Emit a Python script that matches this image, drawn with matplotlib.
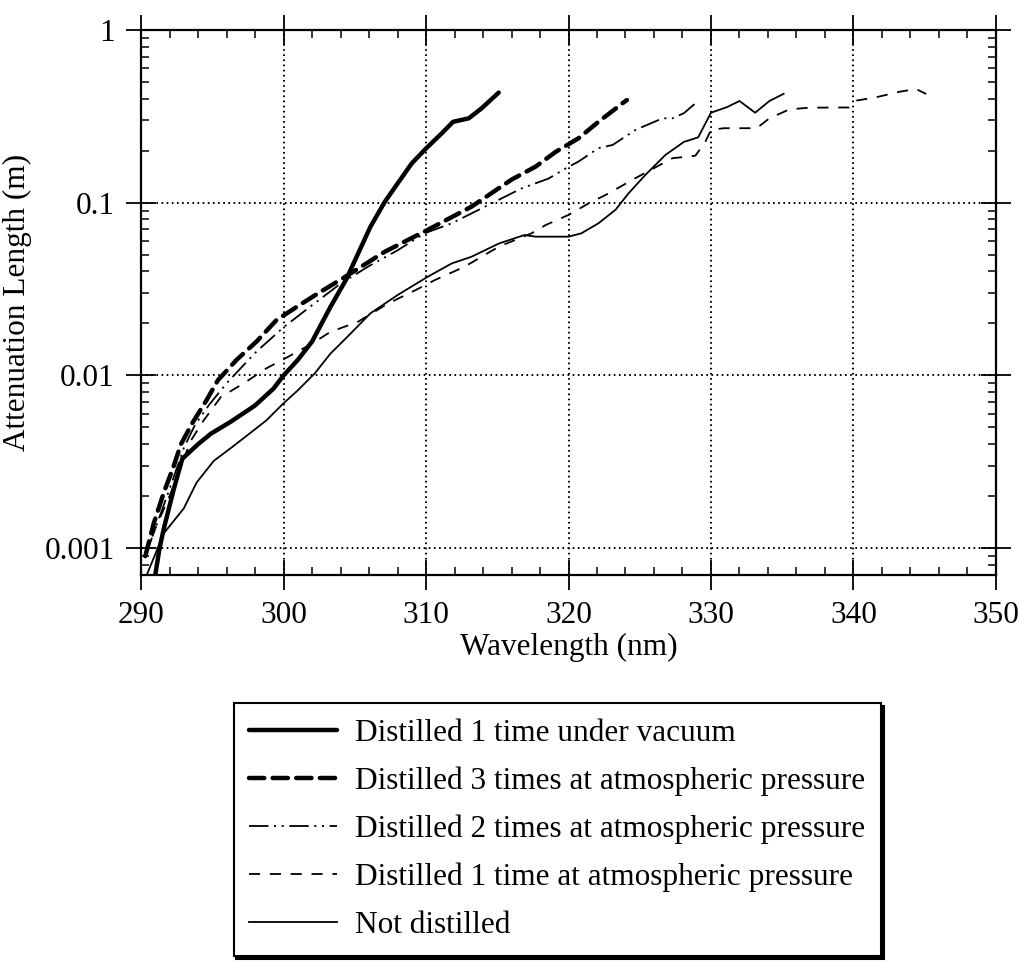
import matplotlib
matplotlib.use("Agg")
import matplotlib.pyplot as plt
from matplotlib.ticker import MultipleLocator, LogLocator, FixedLocator, NullFormatter

plt.rcParams['font.family'] = ['Liberation Serif', 'DejaVu Serif']
plt.rcParams['lines.scale_dashes'] = False

# Distilled 1 time under vacuum
wl_vac = [291.0, 291.3, 291.6, 292.3, 292.9, 294.0, 294.9, 296.3, 298.0, 299.3, 300.0, 301.0,
          302.0, 303.3, 304.4, 306.1, 307.1, 308.0, 309.0, 310.0, 311.1, 311.9, 313.0, 313.9, 315.1]
att_vac = [0.0007, 0.001, 0.0013, 0.0022, 0.0033, 0.0040, 0.0046, 0.0054, 0.0067, 0.0084, 0.010,
           0.0123, 0.0157, 0.025, 0.036, 0.0726, 0.101, 0.129, 0.169, 0.206, 0.252, 0.294, 0.308,
           0.352, 0.434]

# Distilled 3 times at atmospheric pressure
wl_3atm = [290.3, 290.9, 291.6, 292.3, 292.8, 293.6, 294.6, 295.4, 296.7, 298.1, 299.5, 301.1,
           302.6, 304.5, 307.1, 310.1, 313.2, 316.0, 317.7, 319.1, 320.7, 322.1, 323.8, 324.1]
att_3atm = [0.0009, 0.0014, 0.0021, 0.0030, 0.0040, 0.0053, 0.0072, 0.0094, 0.0123, 0.0157,
            0.0209, 0.0255, 0.0305, 0.038, 0.052, 0.0695, 0.095, 0.136, 0.162, 0.197, 0.236,
            0.294, 0.377, 0.393]

# Distilled 2 times at atmospheric pressure
wl_2atm = [290.3, 291.0, 292.0, 293.0, 293.8, 294.8, 296.0, 298.0, 300.0, 302.0, 304.0, 306.0,
           308.0, 309.9, 311.8, 314.8, 316.7, 318.6, 319.8, 320.7, 322.1, 323.1, 324.7, 326.6,
           327.3, 328.1, 329.1]
att_2atm = [0.0009, 0.0013, 0.0022, 0.0038, 0.0052, 0.0068, 0.0090, 0.0135, 0.019, 0.0255,
            0.034, 0.043, 0.053, 0.0665, 0.076, 0.101, 0.121, 0.138, 0.158, 0.173, 0.207, 0.216,
            0.264, 0.308, 0.308, 0.33, 0.388]

# Distilled 1 time at atmospheric pressure
wl_1atm = [290.3, 291.0, 292.0, 293.5, 294.4, 295.6, 297.2, 298.8, 300.3, 302.0, 303.3, 305.2,
           307.3, 309.2, 310.6, 312.7, 315.1, 317.4, 318.4, 320.0, 321.4, 322.8, 324.5, 327.3,
           328.9, 329.6, 330.0, 330.9, 333.2, 334.1, 335.5, 336.9, 339.7, 340.2, 341.6, 343.3,
           344.4, 345.1]
att_1atm = [0.0009, 0.0013, 0.0020, 0.0042, 0.0055, 0.0075, 0.0090, 0.011, 0.0128, 0.0153,
            0.0179, 0.0204, 0.026, 0.031, 0.0356, 0.0426, 0.0556, 0.0665, 0.0743, 0.085, 0.099,
            0.113, 0.136, 0.181, 0.187, 0.225, 0.264, 0.27, 0.27, 0.308, 0.347, 0.355, 0.356,
            0.39, 0.408, 0.44, 0.455, 0.426]

# Not distilled
wl_none = [290.4, 291.6, 293.0, 293.9, 295.1, 296.3, 297.6, 298.8, 300.0, 301.0, 302.2, 303.3,
           304.5, 306.1, 308.0, 310.1, 311.8, 313.2, 315.1, 316.9, 317.7, 320.0, 320.9, 322.1,
           323.3, 324.2, 325.4, 326.8, 328.1, 329.1, 330.0, 331.1, 332.0, 333.1, 334.1, 335.1]
att_none = [0.0007, 0.00122, 0.0017, 0.0024, 0.0032, 0.0038, 0.0046, 0.0055, 0.0069, 0.0082,
            0.0103, 0.0134, 0.0168, 0.0229, 0.0292, 0.0372, 0.0445, 0.0487, 0.058, 0.065, 0.0636,
            0.0636, 0.0665, 0.076, 0.091, 0.113, 0.145, 0.189, 0.225, 0.239, 0.332, 0.357, 0.388,
            0.332, 0.388, 0.427]

labels = ["Distilled 1 time under vacuum",
          "Distilled 3 times at atmospheric pressure",
          "Distilled 2 times at atmospheric pressure",
          "Distilled 1 time at atmospheric pressure",
          "Not distilled"]

fs = 22.5
fig = plt.figure(figsize=(10.19, 9.67), dpi=100)
ax = fig.add_axes([0.1384, 0.4054, 0.8390, 0.5636])

h1, = ax.plot(wl_vac, att_vac, color='black', lw=3.2, solid_capstyle='round')
h2, = ax.plot(wl_3atm, att_3atm, color='black', lw=3.2, linestyle=(0, (11, 6)),
              dash_capstyle='round')
h3, = ax.plot(wl_2atm, att_2atm, color='black', lw=1.3, linestyle=(0, (14, 4, 1.5, 4, 1.5, 4)))
h4, = ax.plot(wl_1atm, att_1atm, color='black', lw=1.3, linestyle=(0, (8, 7)))
h5, = ax.plot(wl_none, att_none, color='black', lw=1.3)

ax.set_yscale('log')
ax.set_xlim(290, 350)
ax.set_ylim(7e-4, 1)
ax.xaxis.set_major_locator(MultipleLocator(10))
ax.xaxis.set_minor_locator(MultipleLocator(2))
ax.yaxis.set_major_locator(FixedLocator([0.001, 0.01, 0.1, 1]))
ax.yaxis.set_minor_locator(LogLocator(base=10, subs=range(2, 10)))
ax.yaxis.set_minor_formatter(NullFormatter())
ax.set_yticklabels(['0.001', '0.01', '0.1', '1'])

ax.tick_params(which='major', direction='inout', length=22, width=1.3, labelsize=fs,
               top=True, right=True, pad=8)
ax.tick_params(which='minor', direction='in', length=6, width=1.1, top=True, right=True)
for s in ax.spines.values():
    s.set_linewidth(1.6)

ax.grid(which='major', color='black', linestyle=(0, (1.2, 2.5)), linewidth=1.4)

ax.set_xlabel("Wavelength (nm)", fontsize=fs, labelpad=2)
ax.set_ylabel("Attenuation Length (m)", fontsize=fs, labelpad=9)

leg = fig.legend([h1, h2, h3, h4, h5], labels, loc='upper center',
                 bbox_to_anchor=(0.547, 0.273), fontsize=fs, frameon=True, fancybox=False,
                 shadow={'color': 'black', 'alpha': 1}, handlelength=2.8, handletextpad=0.6,
                 labelspacing=0.6, borderpad=0.5, borderaxespad=0)
leg.get_frame().set_edgecolor('black')
leg.get_frame().set_linewidth(1.5)
leg.get_frame().set_alpha(1)

fig.savefig("out.png", dpi=100)
